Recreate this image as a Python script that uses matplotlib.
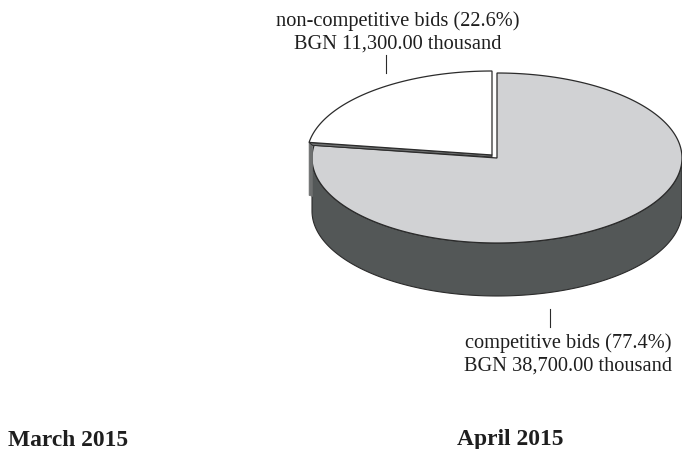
import numpy as np
import matplotlib
matplotlib.use("Agg")
import matplotlib.pyplot as plt

# values from the chart
categories = ["non-competitive bids", "competitive bids"]
shares = [22.6, 77.4]
amounts = ["11,300.00", "38,700.00"]
periods = ["March 2015", "April 2015"]

plt.rcParams['font.family'] = ['Liberation Serif']

fig = plt.figure(figsize=(6.82, 4.49), dpi=100)
ax = fig.add_axes([0, 0, 1, 1])
ax.set_xlim(0, 682)
ax.set_ylim(449, 0)
ax.axis('off')

# pie geometry, pixels
cx, cy = 497, 158
rx, ry = 185, 85
depth = 53
wx, wy = 492, 155  # exploded white slice apex
LINE = "#2b2b2b"
GREY = "#d1d2d4"
DARK = "#535757"
MID = "#6e7070"

# slice goes counter clockwise from 12 o'clock
edge = 90 + shares[0] * 3.6


def arc(x0, y0, a1, a2, ry=ry, n=200):
    t = np.radians(np.linspace(a1, a2, n))
    return x0 + rx * np.cos(t), y0 - ry * np.sin(t)


# side of the big slice
x1, y1 = arc(cx, cy, 180, 360)
x2, y2 = arc(cx, cy + depth, 360, 180)
ax.fill(np.r_[x1, x2], np.r_[y1, y2], fc=DARK, ec=LINE, lw=0.8, zorder=1)

# top of the big slice
x, y = arc(cx, cy, edge, 450)
ax.fill(np.r_[cx, x], np.r_[cy, y], fc=GREY, ec=LINE, lw=0.9, zorder=2)

# side of the white slice, seen at the left
ex, ey = arc(wx, wy, edge, edge, ry=84, n=1)
ax.fill([ex[0], ex[0] + 3.5, ex[0] + 3.5, ex[0]],
        [ey[0], ey[0] + 3, ey[0] + depth + 1, ey[0] + depth],
        fc=MID, ec=MID, lw=0.5, zorder=3)
# cut face under the white slice
ax.fill([ex[0], wx, wx, ex[0] + 3.5], [ey[0], wy, wy + 2, ey[0] + 3],
        fc=MID, ec=LINE, lw=0.7, zorder=3)

# top of the white slice
x, y = arc(wx, wy, 90, edge, ry=84)
ax.fill(np.r_[wx, x], np.r_[wy, y], fc="white", ec=LINE, lw=0.9, zorder=4)

# leader lines
ax.plot([386, 386], [55, 73], color=LINE, lw=0.8)
ax.plot([550, 550], [309, 327], color=LINE, lw=0.8)

# labels
TXT = "#1e1e1e"
ax.text(397.5, 26, f"{categories[0]} ({shares[0]}%)", ha='center', va='baseline', fontsize=14.7, color=TXT)
ax.text(397.5, 48.5, f"BGN {amounts[0]} thousand", ha='center', va='baseline', fontsize=14.7, color=TXT)
ax.text(568.5, 348, f"{categories[1]} ({shares[1]}%)", ha='center', va='baseline', fontsize=14.7, color=TXT)
ax.text(568.5, 371, f"BGN {amounts[1]} thousand", ha='center', va='baseline', fontsize=14.7, color=TXT)
ax.text(8, 445.5, periods[0], ha='left', va='baseline', fontsize=16.9, fontweight='bold', color=TXT)
ax.text(457, 445.5, periods[1], ha='left', va='baseline', fontsize=16.9, fontweight='bold', color=TXT)

plt.savefig('out.png', dpi=100)
